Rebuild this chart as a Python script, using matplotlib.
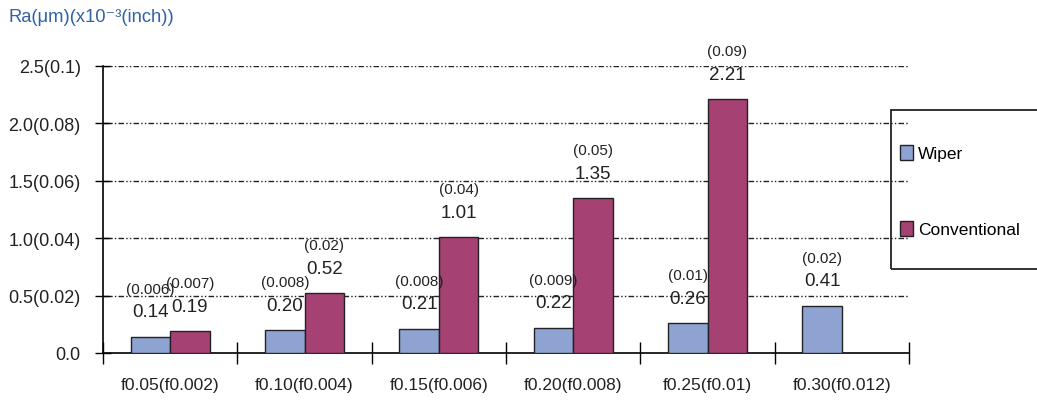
import numpy as np
import matplotlib.pyplot as plt
from matplotlib.patches import Rectangle, Patch

# feed per rev, mm (inch)
categories = ["f0.05(f0.002)", "f0.10(f0.004)", "f0.15(f0.006)",
              "f0.20(f0.008)", "f0.25(f0.01)", "f0.30(f0.012)"]

# surface roughness Ra in um, with the inch x10^-3 value in brackets
wiper = [0.14, 0.20, 0.21, 0.22, 0.26, 0.41]
wiper_inch = ["(0.006)", "(0.008)", "(0.008)", "(0.009)", "(0.01)", "(0.02)"]
conventional = [0.19, 0.52, 1.01, 1.35, 2.21, np.nan]
conventional_inch = ["(0.007)", "(0.02)", "(0.04)", "(0.05)", "(0.09)", ""]

ytick_vals = [0.0, 0.5, 1.0, 1.5, 2.0, 2.5]
ytick_labels = ["0.0", "0.5(0.02)", "1.0(0.04)", "1.5(0.06)", "2.0(0.08)", "2.5(0.1)"]

sans = ["Liberation Sans", "DejaVu Sans"]
wiper_color = "#8fa3d3"
conv_color = "#a54173"
dashdotdot = (0, (4, 1.6, 1, 1.6, 1, 1.6))

W, H = 1037, 406
fig = plt.figure(figsize=(W / 100, H / 100), dpi=100)
ax = fig.add_axes([103 / W, 1 - 354 / H, (909 - 103) / W, (354 - 67) / H])

x = np.arange(len(categories)) + 0.5
bw = 0.294
ax.bar(x - bw / 2, wiper, bw, color=wiper_color, edgecolor="#222222", linewidth=1.0, zorder=3)
ax.bar(x + bw / 2, conventional, bw, color=conv_color, edgecolor="#222222", linewidth=1.0, zorder=3)

def label_bars(xs, vals, inch):
    for xi, v, s in zip(xs, vals, inch):
        if np.isnan(v):
            continue
        ax.annotate(f"{v:.2f}", (xi, v), xytext=(0, 18), textcoords="offset points",
                    ha="center", va="center", fontsize=13.5, family=sans,
                    color="#222222", zorder=5)
        ax.annotate(s, (xi, v), xytext=(0, 34.5), textcoords="offset points",
                    ha="center", va="center", fontsize=11, family=sans,
                    color="#222222", zorder=5)

label_bars(x - bw / 2, wiper, wiper_inch)
label_bars(x + bw / 2, conventional, conventional_inch)

ax.set_xlim(0, len(categories))
ax.set_ylim(0, 2.5)
for y in ytick_vals[1:]:
    ax.axhline(y, color="#222222", linewidth=1.0, linestyle=dashdotdot, zorder=1)

ax.set_yticks(ytick_vals)
ax.set_yticklabels(ytick_labels, family=sans, fontsize=13, color="#222222")
ax.set_xticks(np.arange(len(categories) + 1))
ax.set_xticklabels([])
ax.set_xticks(x, minor=True)
ax.set_xticklabels(categories, minor=True, family=sans, fontsize=12.5, color="#222222")
ax.tick_params(axis="x", which="major", direction="inout", length=16, width=1.0)
ax.tick_params(axis="x", which="minor", length=0, pad=17)
ax.tick_params(axis="y", direction="inout", length=12, width=1.0, pad=10)

for side in ["top", "right"]:
    ax.spines[side].set_visible(False)
ax.spines["left"].set_linewidth(1.2)
ax.spines["bottom"].set_linewidth(1.2)

fig.text(8 / W, 1 - 18 / H, "Ra(μm)(x10⁻³(inch))", color="#2f62aa", fontsize=13.2,
         family=sans, ha="left", va="center")

# legend frame runs off the right edge
fig.patches.append(Rectangle((891 / W, 1 - 270 / H), 0.2, (270 - 111) / H,
                             transform=fig.transFigure, fill=False,
                             edgecolor="#222222", linewidth=1.3))
handles = [Patch(facecolor=wiper_color, edgecolor="#222222", label="Wiper"),
           Patch(facecolor=conv_color, edgecolor="#222222", label="Conventional")]
fig.legend(handles=handles, loc="center left", bbox_to_anchor=(900 / W, 1 - 192 / H),
           frameon=False, labelspacing=3.4, handlelength=0.75,
           handleheight=1.0, handletextpad=0.3, borderpad=0, borderaxespad=0,
           prop={"family": sans, "size": 12.5})

fig.savefig("out.png", dpi=100)
